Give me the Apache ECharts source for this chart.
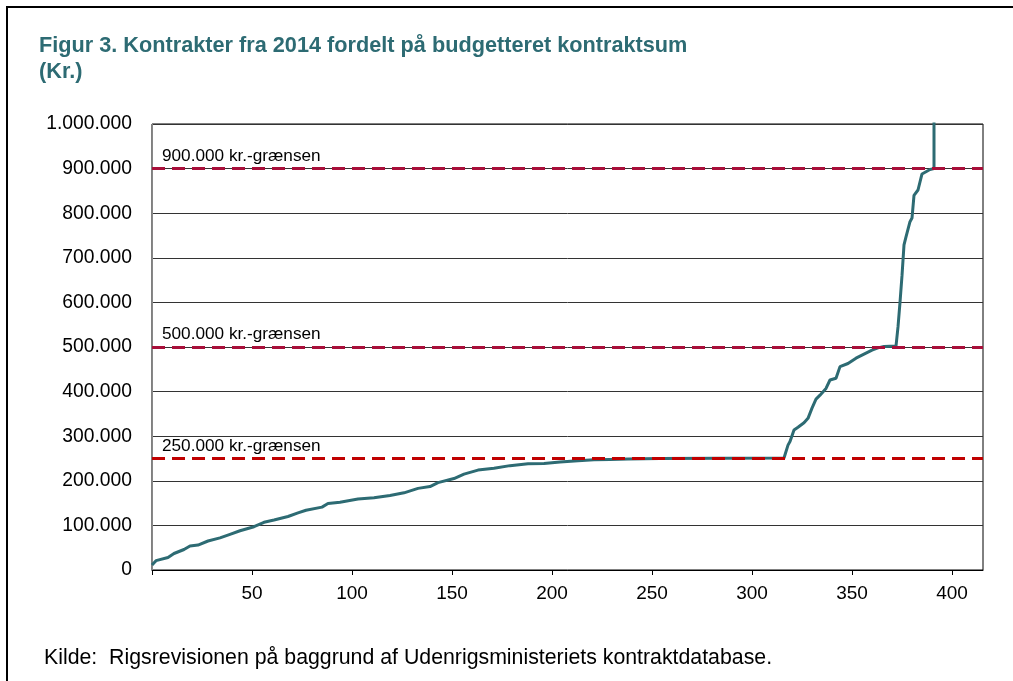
<!DOCTYPE html>
<html><head><meta charset="utf-8">
<script src="https://cdn.jsdelivr.net/npm/echarts@6/dist/echarts.min.js"></script>
<style>html,body{margin:0;padding:0;background:#fff}#c{width:1013px;height:681px}</style>
</head><body><div id="c"></div>
<script>
const titleText = 'Figur 3. Kontrakter fra 2014 fordelt på budgetteret kontraktsum\n(Kr.)';
const sourceText = 'Kilde:  Rigsrevisionen på baggrund af Udenrigsministeriets kontraktdatabase.';

// contract rank (sorted by budgeted sum) and budgeted sum in kr.
const contractRank = [0, 2, 8, 11, 16, 19, 23, 28, 34, 39, 44, 51, 56, 61, 68, 73, 77, 85, 88, 94,
  103, 111, 119, 126, 133, 139, 143, 151, 156, 163, 171, 179, 188, 196, 204, 213, 221, 229, 238, 254,
  316, 318, 319, 321, 323, 326, 328, 330, 332, 334, 337, 339, 342, 344, 348, 352, 356, 360, 363, 366,
  372, 373, 374, 375, 376, 377, 379, 380, 381, 383, 385, 387, 389, 391, 391];
const contractSum = [11000, 21000, 28000, 37000, 46000, 54000, 56000, 65000, 72000, 80000, 88000, 97000, 107000, 112000, 120000, 128000, 134000, 141000, 149000, 152000,
  159000, 162000, 167000, 173000, 183000, 187000, 196000, 205000, 215000, 224000, 228000, 234000, 238000, 239000, 242000, 245000, 247000, 248000, 249000, 250000,
  251000, 280000, 288000, 314000, 320000, 330000, 340000, 363000, 383000, 392000, 407000, 426000, 430000, 456000, 463000, 475000, 484000, 493000, 498000, 501000,
  502000, 545000, 600000, 660000, 729000, 747000, 781000, 789000, 840000, 852000, 888000, 893000, 898000, 900000, 1200000];

const thresholds = [250000, 500000, 900000];
const thresholdLabels = ['250.000 kr.-grænsen', '500.000 kr.-grænsen', '900.000 kr.-grænsen'];
const thresholdColors = ['#c00000', '#a80f3a', '#a80f3a'];
const xTickValues = [0, 50, 100, 150, 200, 250, 300, 350, 400];

const fmt = v => String(v).replace(/\B(?=(\d{3})+(?!\d))/g, '.');
const FONT = "'Liberation Sans', Arial, sans-serif";
const TEAL = '#2d6b73';

const chart = echarts.init(document.getElementById('c'), null, {renderer: 'canvas'});
chart.setOption({
  animation: false,
  backgroundColor: '#fff',
  title: {
    text: titleText, left: 34, top: 28,
    textStyle: {color: TEAL, fontFamily: FONT, fontWeight: 'bold', fontSize: 21.7, lineHeight: 26}
  },
  graphic: [
    {type: 'line', shape: {x1: 6, y1: 7, x2: 1013, y2: 7}, style: {stroke: '#000', lineWidth: 2}},
    {type: 'line', shape: {x1: 7, y1: 6, x2: 7, y2: 681}, style: {stroke: '#000', lineWidth: 2}},
    {type: 'text', left: 44, top: 648, style: {text: sourceText, fill: '#000', font: '21.3px ' + FONT}}
  ],
  grid: {left: 152, right: 30, top: 124, bottom: 111, show: true, borderColor: '#000', borderWidth: 1, backgroundColor: 'transparent'},
  xAxis: {
    type: 'value', min: 0, max: 415.5, interval: 50,
    axisLine: {show: true, lineStyle: {color: '#000', width: 1}},
    axisTick: {show: true, length: 5, customValues: xTickValues, lineStyle: {color: '#000'}},
    axisLabel: {color: '#000', fontFamily: FONT, fontSize: 19, margin: 14, customValues: xTickValues.slice(1)},
    splitLine: {show: false}
  },
  yAxis: {
    type: 'value', min: 0, max: 1000000, interval: 100000,
    axisLine: {show: true, lineStyle: {color: '#888'}},
    axisTick: {show: false},
    axisLabel: {color: '#000', fontFamily: FONT, fontSize: 19.3, margin: 20, formatter: fmt},
    splitLine: {show: true, lineStyle: {color: '#333', width: 1}}
  },
  series: [{
    type: 'line',
    data: contractRank.map((x, i) => [x, contractSum[i]]),
    showSymbol: false, symbol: 'none', clip: true,
    lineStyle: {color: TEAL, width: 3},
    z: 3,
    markLine: {
      silent: true, symbol: 'none', z: 5,
      lineStyle: {width: 3, type: [13, 7]},
      label: {show: true, position: 'insideStartTop', distance: [10, 4], color: '#000', fontFamily: FONT, fontSize: 17.2,
        formatter: p => thresholdLabels[thresholds.indexOf(p.value)]},
      data: thresholds.map((t, i) => ({yAxis: t, lineStyle: {color: thresholdColors[i]}}))
    }
  }]
});
</script></body></html>
